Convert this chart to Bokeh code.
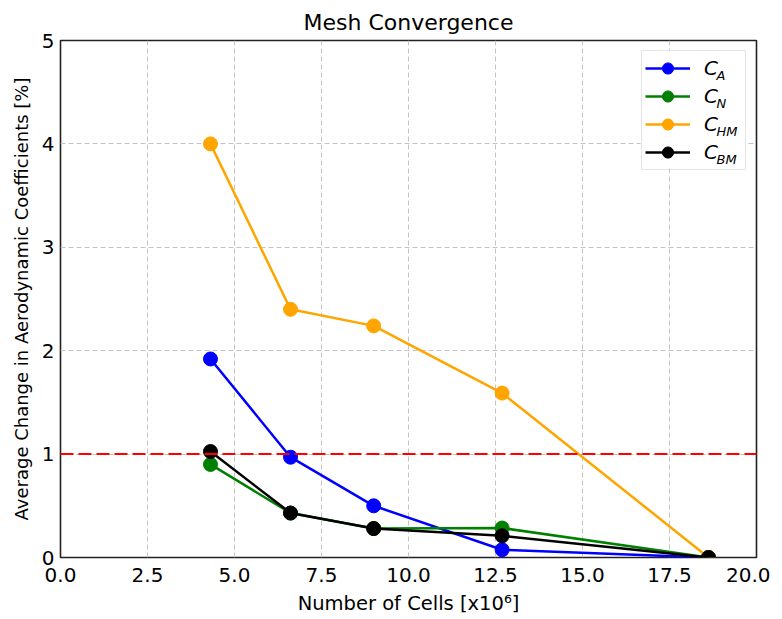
from bokeh.plotting import figure
from bokeh.models import Range1d, FixedTicker, Legend, LegendItem, Span, Label, BoxAnnotation
from bokeh.embed import file_html
from bokeh.resources import INLINE

# ---- data ----
cells = [4.31, 6.61, 9.00, 12.69, 18.62]
c_a = [1.92, 0.97, 0.50, 0.075, 0.0]
c_n = [0.90, 0.43, 0.28, 0.285, 0.0]
c_hm = [4.00, 2.40, 2.24, 1.59, 0.0]
c_bm = [1.025, 0.43, 0.28, 0.21, 0.0]
threshold = 1.0

series_values = [c_a, c_n, c_hm, c_bm]
series_main = ["C", "C", "C", "C"]
series_sub = ["A", "N", "HM", "BM"]
series_colors = ["#0000ff", "#008000", "#ffa500", "#000000"]

x_ticks = [0.0, 2.5, 5.0, 7.5, 10.0, 12.5, 15.0, 17.5, 20.0]
x_tick_labels = ["0.0", "2.5", "5.0", "7.5", "10.0", "12.5", "15.0", "17.5", "20.0"]
y_ticks = [0, 1, 2, 3, 4, 5]
y_tick_labels = ["0", "1", "2", "3", "4", "5"]

FONT = "DejaVu Sans"
X0, X1, Y0, Y1 = 0, 20, 0, 5
W, H = 770, 617
BL, BR, BT = 60, 14, 40
FRAME_W, FRAME_H = 696, 517
LEG_MARGIN, LEG_W, LEG_H = 10, 106, 118

p = figure(width=W, height=H, output_backend="svg", toolbar_location=None,
           x_range=Range1d(X0, X1), y_range=Range1d(Y0, Y1),
           title="Mesh Convergence",
           min_border_left=BL, min_border_right=BR, min_border_top=BT, min_border_bottom=10)

p.title.text_font = FONT
p.title.text_font_size = "22px"
p.title.text_font_style = "normal"
p.title.align = "center"
p.title.text_color = "#000000"
p.title.standoff = 12
p.title.text_line_height = 0.9

p.outline_line_color = "#222222"
p.outline_line_width = 1.6
p.background_fill_color = "white"
p.border_fill_color = "white"

p.xaxis.ticker = FixedTicker(ticks=x_ticks)
p.yaxis.ticker = FixedTicker(ticks=y_ticks)
p.xaxis.major_label_overrides = {t: l for t, l in zip(x_ticks, x_tick_labels)}
p.yaxis.major_label_overrides = {t: l for t, l in zip(y_ticks, y_tick_labels)}

for ax in (p.xaxis[0], p.yaxis[0]):
    ax.axis_line_color = None
    ax.major_tick_line_color = None
    ax.minor_tick_line_color = None
    ax.major_tick_out = 0
    ax.major_tick_in = 0
    ax.major_label_text_font = FONT
    ax.major_label_text_font_size = "20px"
    ax.major_label_text_color = "#000000"
    ax.axis_label_text_font = FONT
    ax.axis_label_text_font_style = "normal"
    ax.axis_label_text_color = "#000000"

p.xaxis.axis_label = "Number of Cells [x10\u2076]"
p.yaxis.axis_label = "Average Change in Aerodynamic Coefficients [%]"
p.xaxis.axis_label_text_font_size = "19.5px"
p.yaxis.axis_label_text_font_size = "18px"
p.xaxis.major_label_standoff = 10
p.xaxis.axis_label_standoff = 7
p.yaxis.major_label_standoff = 6
p.yaxis.axis_label_standoff = 7

p.xgrid.ticker = FixedTicker(ticks=x_ticks)
p.ygrid.ticker = FixedTicker(ticks=y_ticks)
for g in (p.xgrid[0], p.ygrid[0]):
    g.grid_line_color = "#c4c4c4"
    g.grid_line_dash = "5 3"
    g.grid_line_width = 1

# white background for the legend box (drawn above the grid, below the glyphs)
px_x = (X1 - X0) / FRAME_W
px_y = (Y1 - Y0) / FRAME_H
p.add_layout(BoxAnnotation(left=X1 - (LEG_MARGIN + LEG_W) * px_x, right=X1 - LEG_MARGIN * px_x,
                           top=Y1 - LEG_MARGIN * px_y, bottom=Y1 - (LEG_MARGIN + LEG_H) * px_y,
                           fill_color="white", fill_alpha=1.0, line_color=None,
                           level="underlay", propagate_hover=False))

items = []
for vals, col, name in zip(series_values, series_colors, series_main):
    lr = p.line(cells, vals, line_color=col, line_width=2.5)
    sr = p.scatter(cells, vals, size=14, fill_color=col, line_color=col)
    items.append(LegendItem(label=name, renderers=[lr, sr]))

p.add_layout(Span(location=threshold, dimension="width", line_color="#ff0000",
                  line_width=2, line_dash="13 5"))

legend = Legend(items=items, location="top_right", margin=LEG_MARGIN,
                padding=3, spacing=0, glyph_width=45, glyph_height=28,
                label_height=28, label_width=38, label_standoff=14,
                label_text_font=FONT, label_text_font_size="20px",
                label_text_font_style="italic", label_text_color="#000000",
                border_line_color="#cccccc", border_line_width=1,
                background_fill_alpha=0.0)
p.add_layout(legend)

# subscripts of the legend labels (screen units relative to the frame)
for i, sub in enumerate(series_sub):
    p.add_layout(Label(x=656, y=482 - 28 * i, x_units="screen", y_units="screen",
                       text=sub, text_font=FONT, text_font_size="13px",
                       text_font_style="italic", text_color="#000000",
                       text_baseline="alphabetic", text_align="left"))

open("out.html", "w").write(file_html(p, INLINE))
